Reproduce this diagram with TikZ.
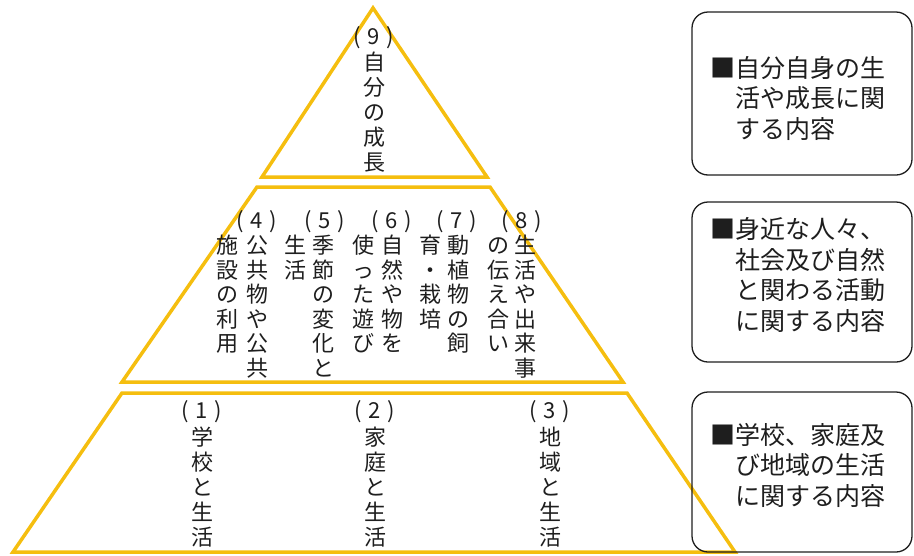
\documentclass[tikz,border=0pt]{standalone}
\usepackage{fontspec}
\newfontfamily\jp{Noto Sans CJK JP}
\definecolor{gold}{RGB}{245,190,15}
\definecolor{ink}{RGB}{30,30,30}
\newcommand\pn[1]{\makebox[20pt]{(}\makebox[13pt]{#1}\makebox[20pt]{)}}
\newcommand\vcol[5]{% name, x, ytop, pitch, chars
  \foreach \c [count=\i from 0] in {#5} \node[ch] (#1-\i) at (#2, {#3+#4*\i}) {\c};}
\begin{document}
\begin{tikzpicture}[x=1pt,y=-1pt,
  pyr/.style={draw=gold, line width=3.5pt, line join=miter},
  ch/.style={font=\jp\fontsize{22}{25}\selectfont, inner sep=0pt, text height=18.3pt, text depth=1.5pt, text=ink},
  infobox/.style={draw=ink, line width=1.3pt, rounded corners=16pt, inner sep=0pt},
  info/.style={font=\jp\fontsize{25}{30.5}\selectfont, align=left, inner sep=0pt, anchor=west, text=ink}]
\useasboundingbox (0,0) rectangle (914,555);
% pyramid
\draw[pyr] (373,8) -- (487,177) -- (262,177) -- cycle;
\draw[pyr] (257,187) -- (490,187) -- (623,382) -- (122,382) -- cycle;
\draw[pyr] (122,393) -- (627,393) -- (735,552) -- (13,552) -- cycle;
% top
\node[ch] (p9) at (374,36) {\pn{9}};
\vcol{t9}{374}{62}{25}{自,分,の,成,長}
% middle
\node[ch] (p4) at (257,220) {\pn{4}};
\vcol{c4a}{257}{245}{24.6}{公,共,物,や,公,共}
\vcol{c4b}{227}{245}{24.6}{施,設,の,利,用}
\node[ch] (p5) at (325,220) {\pn{5}};
\vcol{c5a}{323}{245}{24.6}{季,節,の,変,化,と}
\vcol{c5b}{295}{245}{24.6}{生,活}
\node[ch] (p6) at (392,220) {\pn{6}};
\vcol{c6a}{392}{245}{24.6}{自,然,や,物,を}
\vcol{c6b}{363}{245}{24.6}{使,っ,た,遊,び}
\node[ch] (p7) at (457,220) {\pn{7}};
\vcol{c7a}{458}{245}{24.6}{動,植,物,の,飼}
\vcol{c7b}{430}{245}{24.6}{育,・,栽,培}
\node[ch] (p8) at (522,220) {\pn{8}};
\vcol{c8a}{525}{245}{24.6}{生,活,や,出,来,事}
\vcol{c8b}{498}{245}{24.6}{の,伝,え,合,い}
% bottom
\node[ch] (p1) at (202,410) {\pn{1}};
\vcol{c1}{202}{437}{25}{学,校,と,生,活}
\node[ch] (p2) at (375,410) {\pn{2}};
\vcol{c2}{375}{437}{25}{家,庭,と,生,活}
\node[ch] (p3) at (550,410) {\pn{3}};
\vcol{c3}{550}{437}{25}{地,域,と,生,活}
% right boxes
\node[infobox, minimum width=220pt, minimum height=163pt] (b1) at (802,93.5) {};
\node[infobox, minimum width=220pt, minimum height=160pt] (b2) at (802,282) {};
\node[infobox, minimum width=220pt, minimum height=160pt] (b3) at (802,472) {};
\node[info] (t1) at (710,98) {■自分自身の生\\\phantom{■}活や成長に関\\\phantom{■}する内容};
\node[info] (t2) at (710,275) {■身近な人々、\\\phantom{■}社会及び自然\\\phantom{■}と関わる活動\\\phantom{■}に関する内容};
\node[info] (t3) at (710,465) {■学校、家庭及\\\phantom{■}び地域の生活\\\phantom{■}に関する内容};
\end{tikzpicture}
\end{document}
